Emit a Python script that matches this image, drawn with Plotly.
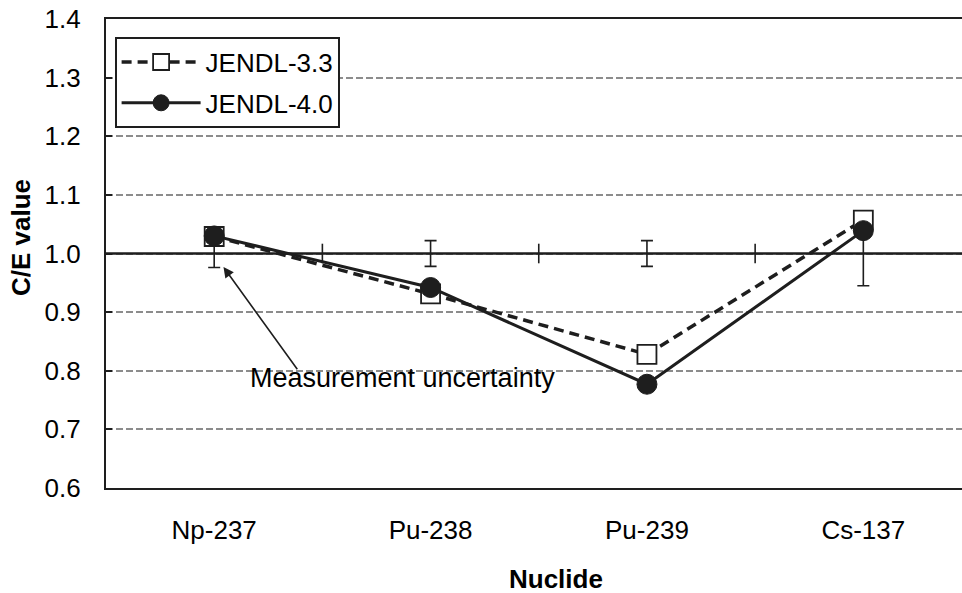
import plotly.graph_objects as go

categories = ["Np-237", "Pu-238", "Pu-239", "Cs-137"]
jendl33 = [1.029, 0.931, 0.828, 1.057]
jendl40 = [1.030, 0.942, 0.777, 1.039]
exp_unc = [0.024, 0.022, 0.022, 0.055]
y_ticks = [0.6, 0.7, 0.8, 0.9, 1.0, 1.1, 1.2, 1.3, 1.4]

xs = list(range(len(categories)))
boundaries = [i + 0.5 for i in range(len(categories) - 1)]
FONT = "Liberation Sans, Arial, sans-serif"
INK = "#1e1e1e"

fig = go.Figure()

# reference line C/E = 1 (horizontal axis crossing)
fig.add_trace(go.Scatter(
    x=[-0.5, len(categories) - 0.5], y=[1.0, 1.0], mode="lines",
    line=dict(color=INK, width=2.6), showlegend=False, hoverinfo="skip"))

# measurement uncertainty bars centred on C/E = 1
fig.add_trace(go.Scatter(
    x=xs, y=[1.0] * len(xs), mode="markers",
    marker=dict(size=1, color="rgba(0,0,0,0)"),
    error_y=dict(type="data", array=exp_unc, visible=True, color=INK, thickness=1.6, width=6),
    showlegend=False, hoverinfo="skip"))

# category tick marks on the C/E = 1 line
fig.add_trace(go.Scatter(
    x=boundaries, y=[1.0] * len(boundaries), mode="markers",
    marker=dict(symbol="line-ns", size=14, line=dict(color=INK, width=1.6)),
    showlegend=False, hoverinfo="skip"))

fig.add_trace(go.Scatter(
    x=xs, y=jendl33, mode="lines+markers", name="JENDL-3.3",
    line=dict(color=INK, width=3.5, dash="10px,6px"),
    marker=dict(symbol="square", size=19, color="white", line=dict(color=INK, width=1.8)),
    legendgroup="a"))

fig.add_trace(go.Scatter(
    x=xs, y=jendl40, mode="lines+markers", name="JENDL-4.0",
    line=dict(color=INK, width=3),
    marker=dict(symbol="circle", size=20, color=INK, line=dict(color=INK, width=1)),
    legendgroup="b"))

fig.add_annotation(x=0.043, y=0.977, ax=0.389, ay=0.80, xref="x", yref="y",
                   axref="x", ayref="y", text="", showarrow=True,
                   arrowhead=2, arrowsize=1.3, arrowwidth=1.6, arrowcolor=INK)
fig.add_annotation(x=0.87, y=0.7875, xref="x", yref="y", text="Measurement uncertainty",
                   showarrow=False, xanchor="center", yanchor="middle",
                   font=dict(family=FONT, size=27, color="#000"))

fig.add_annotation(x=(556 - 106) / 856, y=(488 - 579) / 469, xref="paper", yref="paper",
                   text="<b>Nuclide</b>", showarrow=False, xanchor="center", yanchor="middle",
                   font=dict(family=FONT, size=26, color="#000"))
fig.add_annotation(x=(21 - 106) / 856, y=(488 - 238) / 469, xref="paper", yref="paper",
                   text="<b>C/E value</b>", showarrow=False, textangle=-90,
                   xanchor="center", yanchor="middle",
                   font=dict(family=FONT, size=26, color="#000"))

fig.update_layout(
    width=962, height=593,
    margin=dict(l=106, r=0, t=19, b=105),
    paper_bgcolor="white", plot_bgcolor="white",
    font=dict(family=FONT, size=26, color="#000"),
    showlegend=True,
    legend=dict(x=(115 - 106) / 856, y=1 - (37 - 19) / 469, xanchor="left", yanchor="top",
                bgcolor="white", bordercolor=INK, borderwidth=1.6,
                font=dict(family=FONT, size=26, color="#000"),
                itemwidth=79, traceorder="grouped", tracegroupgap=4),
    xaxis=dict(range=[-0.5, 3.456], tickvals=xs, ticktext=categories,
               showgrid=False, zeroline=False, showline=True, mirror=True,
               linecolor=INK, linewidth=2.2, ticks="", ticklabelstandoff=18),
    yaxis=dict(range=[0.6, 1.4], tickvals=y_ticks, tickformat=".1f",
               showgrid=True, gridcolor="#8c8c8c", gridwidth=1.5, griddash="7px,3px",
               zeroline=False, showline=True, linecolor=INK, linewidth=2.2,
               ticks="inside", ticklen=6, tickcolor=INK, tickwidth=1.5,
               ticklabelstandoff=18),
)

fig.write_html("out.html")
